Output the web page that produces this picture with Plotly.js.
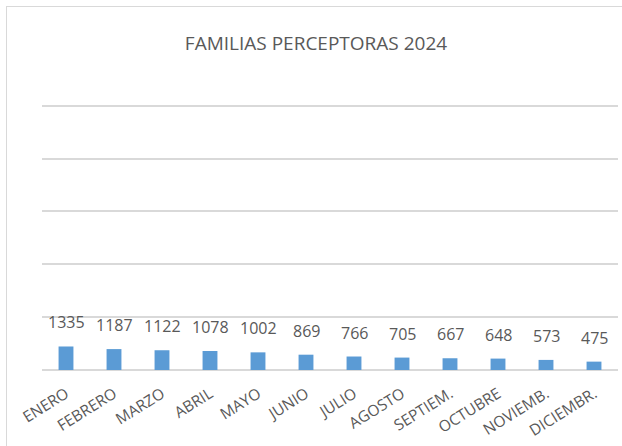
<!DOCTYPE html>
<html>
<head>
<meta charset="utf-8">
<script src="https://cdn.plot.ly/plotly-3.0.1.min.js"></script>
<style>
  html, body { margin: 0; padding: 0; background: #fff; overflow: hidden; }
  #frame { position: absolute; left: 6px; top: 6px; width: 700px; height: 600px;
           border: 1.5px solid #d9d9d9; box-sizing: border-box; }
  #chart { position: absolute; left: 0; top: 0; width: 622px; height: 446px; }
</style>
</head>
<body>
<div id="frame"></div>
<div id="chart"></div>
<script>
const months = ["ENERO", "FEBRERO", "MARZO", "ABRIL", "MAYO", "JUNIO", "JULIO",
                "AGOSTO", "SEPTIEM.", "OCTUBRE", "NOVIEMB.", "DICIEMBR."];
const families = [1335, 1187, 1122, 1078, 1002, 869, 766, 705, 667, 648, 573, 475];
const chartTitle = "FAMILIAS PERCEPTORAS 2024";

const FONT = "Open Sans, Lato, sans-serif";
const GRAY = "#595959";

const trace = {
  type: "bar",
  x: months,
  y: families,
  marker: { color: "#5b9bd5", line: { color: "#5b9bd5", width: 0 } },
  width: 0.31,
  hoverinfo: "x+y"
};

const annotations = months.map((m, i) => ({
  x: m, y: families[i], xref: "x", yref: "y",
  text: String(families[i]), showarrow: false,
  yanchor: "bottom", yshift: 11,
  font: { family: FONT, size: 16, color: GRAY }
}));

const layout = {
  width: 622, height: 446,
  margin: { l: 42, r: 4, t: 96.7, b: 75.5, pad: 0 },
  paper_bgcolor: "rgba(0,0,0,0)",
  plot_bgcolor: "rgba(0,0,0,0)",
  title: {
    text: chartTitle,
    x: 316 / 622, xref: "container", xanchor: "center",
    y: 1 - 43 / 446, yref: "container", yanchor: "middle",
    font: { family: FONT, size: 19, color: GRAY }
  },
  showlegend: false,
  xaxis: {
    type: "category",
    tickangle: -32,
    tickfont: { family: FONT, size: 15.5, color: GRAY },
    showline: false, ticks: "", showgrid: false,
    ticklabelstandoff: 11,
    automargin: false
  },
  yaxis: {
    range: [0, 15500], tick0: 0, dtick: 3000,
    showticklabels: false, showgrid: true, gridcolor: "#d9d9d9", gridwidth: 2,
    zeroline: true, zerolinecolor: "#d9d9d9", zerolinewidth: 2,
    showline: false, ticks: "", fixedrange: true, automargin: false
  },
  annotations: annotations,
  bargap: 0.69
};

Plotly.newPlot("chart", [trace], layout, { displayModeBar: false, staticPlot: true });
</script>
</body>
</html>
